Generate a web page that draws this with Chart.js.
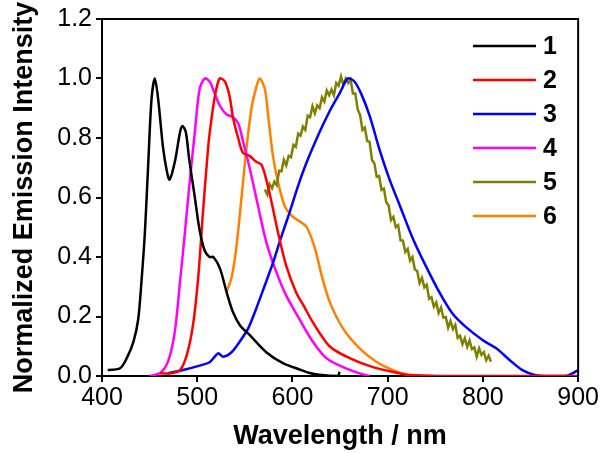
<!DOCTYPE html>
<html>
<head>
<meta charset="utf-8">
<script src="https://cdn.jsdelivr.net/npm/chart.js@4/dist/chart.umd.min.js"></script>
<style>
  html, body { margin: 0; padding: 0; background: #fff; }
  #wrap { width: 600px; height: 453px; }
</style>
</head>
<body>
<div id="wrap"><canvas id="spectra"></canvas></div>
<script>
// ---- emission spectra (wavelength nm, normalized intensity) ----
const labels = ['1', '2', '3', '4', '5', '6'];
const colors = ['#000000', '#ff0000', '#0000ff', '#ff00ff', '#808000', '#ff8000'];

const wl1 = [406, 419, 426, 433, 438, 441.5, 445, 448.5, 452, 455.5, 459, 464, 468, 471, 476.5, 482, 484.5, 488, 491.5, 497.5, 502.5, 508, 513, 517, 524, 531, 537.5, 545, 555, 572.5, 590, 607.5, 618, 628, 647.5, 649.5];
const in1 = [0.02, 0.026, 0.06, 0.115, 0.19, 0.32, 0.48, 0.71, 0.93, 1.0, 0.93, 0.77, 0.69, 0.66, 0.72, 0.82, 0.84, 0.82, 0.73, 0.6, 0.49, 0.42, 0.4, 0.4, 0.36, 0.28, 0.215, 0.17, 0.138, 0.08, 0.043, 0.022, 0.01, 0.004, 0.0, 0.014];

const wl2 = [461, 473, 482, 489, 495.5, 501, 506, 511.5, 514, 518.5, 523.5, 529, 534, 537.5, 543, 548, 555, 562, 567.5, 572.5, 578, 585, 593.5, 604, 612, 621.5, 639, 660, 684.5, 712.5, 723, 750, 800, 850, 900];
const in2 = [0.009, 0.009, 0.02, 0.07, 0.17, 0.33, 0.55, 0.77, 0.84, 0.94, 1.0, 0.99, 0.94, 0.87, 0.8, 0.75, 0.74, 0.72, 0.71, 0.66, 0.585, 0.48, 0.37, 0.28, 0.235, 0.18, 0.1, 0.06, 0.03, 0.009, 0.003, 0.0, 0.0, 0.0, 0.0];

const wl3 = [469.5, 485, 502.5, 513, 522, 527, 536, 544.5, 553.5, 562, 571, 579.5, 588.5, 597, 606, 614.5, 628.5, 639, 649.5, 658, 665, 672, 681, 691.5, 702, 712.5, 726, 740, 754.5, 768, 782, 800, 814, 828, 841.5, 855.5, 873, 887, 894, 900];
const in3 = [0.009, 0.02, 0.035, 0.046, 0.076, 0.065, 0.08, 0.115, 0.16, 0.227, 0.305, 0.38, 0.47, 0.55, 0.64, 0.715, 0.82, 0.89, 0.95, 1.0, 0.99, 0.95, 0.875, 0.76, 0.66, 0.575, 0.465, 0.37, 0.28, 0.21, 0.165, 0.12, 0.093, 0.054, 0.02, 0.003, 0.0, 0.0, 0.009, 0.02];

const wl4 = [450, 461, 469.5, 476.5, 482, 487, 492, 497.5, 502.5, 508, 513, 516.5, 523.5, 530.5, 537.5, 543, 548, 555, 564, 572.5, 583, 593.5, 607.5, 621.5, 635.5, 653, 670.5, 681];
const in4 = [0.0, 0.01, 0.05, 0.15, 0.32, 0.48, 0.65, 0.82, 0.965, 1.0, 0.99, 0.965, 0.91, 0.88, 0.87, 0.85, 0.79, 0.7, 0.57, 0.45, 0.35, 0.27, 0.19, 0.115, 0.06, 0.03, 0.009, 0.0];

const wl5 = [571, 573.5, 576, 578.5, 581, 583.5, 586, 588.5, 591, 593.5, 596, 598.5, 601, 603.5, 606, 608.5, 611, 613.5, 616, 618.5, 621, 623.5, 626, 628.5, 631, 633.5, 636, 638.5, 641, 643.5, 646, 648.5, 651, 653.5, 656, 658.5, 661, 663.5, 666, 668.5, 671, 673.5, 676, 678.5, 681, 683.5, 686, 688.5, 691, 693.5, 696, 698.5, 701, 703.5, 706, 708.5, 711, 713.5, 716, 718.5, 721, 723.5, 726, 728.5, 731, 733.5, 736, 738.5, 741, 743.5, 746, 748.5, 751, 753.5, 756, 758.5, 761, 763.5, 766, 768.5, 771, 773.5, 776, 778.5, 781, 783.5, 786, 788.5, 791, 793.5, 796, 798.5, 801, 803.5, 806, 808.5];
const in5 = [0.627, 0.61, 0.645, 0.631, 0.653, 0.642, 0.69, 0.688, 0.727, 0.708, 0.74, 0.735, 0.777, 0.77, 0.815, 0.808, 0.838, 0.827, 0.875, 0.87, 0.907, 0.883, 0.91, 0.9, 0.937, 0.922, 0.96, 0.944, 0.963, 0.944, 0.985, 0.976, 1.007, 0.978, 1.0, 0.985, 0.997, 0.95, 0.95, 0.896, 0.878, 0.827, 0.835, 0.79, 0.787, 0.726, 0.715, 0.67, 0.672, 0.625, 0.63, 0.584, 0.573, 0.524, 0.535, 0.5, 0.507, 0.456, 0.455, 0.417, 0.427, 0.388, 0.4, 0.358, 0.353, 0.312, 0.33, 0.298, 0.307, 0.26, 0.265, 0.233, 0.247, 0.212, 0.23, 0.196, 0.198, 0.162, 0.185, 0.158, 0.172, 0.128, 0.135, 0.107, 0.127, 0.098, 0.12, 0.09, 0.096, 0.065, 0.093, 0.071, 0.08, 0.053, 0.068, 0.048];

const wl6 = [530.5, 536, 541, 546.5, 551.5, 557, 562, 565.5, 571, 574.5, 579.5, 585, 592, 600.5, 607.5, 615, 623.5, 630.5, 639, 653, 670.5, 688, 705.5, 723, 749];
const in6 = [0.28, 0.33, 0.43, 0.6, 0.76, 0.9, 0.97, 1.0, 0.965, 0.875, 0.74, 0.65, 0.57, 0.535, 0.52, 0.5, 0.43, 0.34, 0.25, 0.16, 0.093, 0.048, 0.02, 0.003, 0.0];

const xTicks = [400, 500, 600, 700, 800, 900];
const yTicks = [0.0, 0.2, 0.4, 0.6, 0.8, 1.0, 1.2];

const series = [[wl1, in1], [wl2, in2], [wl3, in3], [wl4, in4], [wl5, in5], [wl6, in6]];

const FONT = "'Liberation Sans', Arial, sans-serif";

// frame on the top and right of the plot
const boxPlugin = {
    id: 'box',
    afterDraw(chart) {
        const { ctx, chartArea: a } = chart;
        ctx.save();
        ctx.strokeStyle = '#000';
        ctx.lineWidth = 2;
        ctx.beginPath();
        ctx.moveTo(a.left, a.top);
        ctx.lineTo(a.right, a.top);
        ctx.lineTo(a.right, a.bottom);
        ctx.stroke();
        ctx.restore();
    }
};

// line-sample legend in the upper right corner
const legendPlugin = {
    id: 'lineLegend',
    afterDraw(chart) {
        const ctx = chart.ctx;
        ctx.save();
        ctx.font = "bold 25px " + FONT;
        ctx.textBaseline = 'middle';
        ctx.textAlign = 'left';
        chart.data.datasets.forEach((ds, i) => {
            const y = 46 + i * 34;
            ctx.strokeStyle = ds.borderColor;
            ctx.lineWidth = 2.5;
            ctx.beginPath();
            ctx.moveTo(473, y);
            ctx.lineTo(536, y);
            ctx.stroke();
            ctx.fillStyle = '#000';
            ctx.fillText(ds.label, 543, y + 1);
        });
        ctx.restore();
    }
};

new Chart(document.getElementById('spectra'), {
    type: 'line',
    data: {
        datasets: series.map(([xs, ys], i) => ({
            label: labels[i],
            data: xs.map((x, k) => ({ x: x, y: ys[k] })),
            borderColor: colors[i],
            borderWidth: 2.5,
            pointRadius: 0,
            fill: false,
            tension: i === 4 ? 0 : 0.3
        }))
    },
    options: {
        responsive: true,
        maintainAspectRatio: false,
        animation: false,
        layout: { padding: { top: 18, right: 21, left: 0, bottom: 0 } },
        plugins: { legend: { display: false }, tooltip: { enabled: false } },
        scales: {
            x: {
                type: 'linear',
                min: 400,
                max: 900,
                afterBuildTicks: s => { s.ticks = xTicks.map(v => ({ value: v })); },
                afterFit: s => { s.height = 77; },
                ticks: { color: '#000', font: { family: FONT, size: 25 }, padding: 1, maxRotation: 0 },
                grid: { drawOnChartArea: false, drawTicks: true, tickLength: 6, color: '#000', lineWidth: 2 },
                border: { display: true, color: '#000', width: 2 },
                title: { display: true, text: 'Wavelength / nm', color: '#000', font: { family: FONT, size: 27, weight: 'bold' }, padding: { top: 0, bottom: 0 } }
            },
            y: {
                min: 0,
                max: 1.2,
                afterBuildTicks: s => { s.ticks = yTicks.map(v => ({ value: v })); },
                afterFit: s => { s.width = 102; },
                ticks: { color: '#000', font: { family: FONT, size: 25 }, padding: 4, callback: v => v.toFixed(1) },
                grid: { drawOnChartArea: false, drawTicks: true, tickLength: 6, color: '#000', lineWidth: 2 },
                border: { display: true, color: '#000', width: 2 },
                title: { display: true, text: 'Normalized Emission Intensity', color: '#000', font: { family: FONT, size: 27, weight: 'bold' }, padding: { top: 8, bottom: 0 } }
            }
        }
    },
    plugins: [boxPlugin, legendPlugin]
});
</script>
</body>
</html>
